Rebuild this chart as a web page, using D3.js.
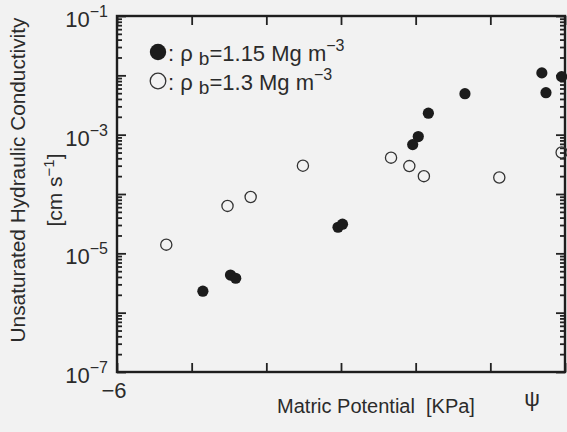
<!DOCTYPE html>
<html>
<head>
<meta charset="utf-8">
<script src="https://cdn.jsdelivr.net/npm/d3@7"></script>
<style>
  html, body { margin: 0; padding: 0; background: #f2f2f2; }
  svg { display: block; }
  text { font-family: "Liberation Sans", Arial, sans-serif; fill: #2b2b2b; }
</style>
</head>
<body>
<svg id="svg" width="567" height="432"></svg>
<script>
const width = 567;
const height = 432;

// rho_b = 1.15 Mg m-3 (filled)
const psiDense = [-4.85, -4.48, -4.41, -3.04, -2.98, -2.04, -1.965, -1.83, -1.34, -0.31, -0.255, -0.045];
const kDense = [2.3e-6, 4.3e-6, 3.8e-6, 2.75e-5, 3.1e-5, 6.8e-4, 9.3e-4, 2.3e-3, 4.9e-3, 1.1e-2, 5.1e-3, 9.5e-3];

// rho_b = 1.3 Mg m-3 (open)
const psiLoose = [-5.34, -4.52, -4.21, -3.51, -2.33, -2.085, -1.89, -0.88, -0.045];
const kLoose = [1.4e-5, 6.3e-5, 8.9e-5, 3.0e-4, 4.1e-4, 2.95e-4, 2.0e-4, 1.9e-4, 5.0e-4];

const xTicks = [-6, -5, -4, -3, -2, -1, 0];
const xTickLabels = ["\u22126"];
const yExponents = [-7, -6, -5, -4, -3, -2, -1];
const yLabelExponents = [-7, -5, -3, -1];

const legendSymbols = ["filled", "open"];
const legendValues = ["1.15", "1.3"];

const margin = { left: 117, right: 2, top: 16, bottom: 60 };

let svg = d3.select("#svg");

const x = d3.scaleLinear().domain([-6, 0]).range([margin.left, width - margin.right]);
const y = d3.scaleLog().domain([1e-7, 1e-1]).range([height - margin.bottom, margin.top]);

const majors = yExponents.map((e) => Math.pow(10, e));
const minors = [];
for (let e of yExponents.slice(0, -1)) {
  for (let m = 2; m <= 9; ++m) minors.push(m * Math.pow(10, e));
}

function styleAxis(g) {
  g.select(".domain").remove();
  g.selectAll("line").attr("stroke", "#222").attr("stroke-width", 1.8);
  g.selectAll("text").remove();
}

// left and right axes (ticks point inward)
svg.append("g").attr("transform", `translate(${x(-6)},0)`)
  .call(d3.axisRight(y).tickValues(majors).tickSize(9)).call(styleAxis);
svg.append("g").attr("transform", `translate(${x(-6)},0)`)
  .call(d3.axisRight(y).tickValues(minors).tickSize(5)).call(styleAxis);
svg.append("g").attr("transform", `translate(${x(0)},0)`)
  .call(d3.axisLeft(y).tickValues(majors).tickSize(9)).call(styleAxis);
svg.append("g").attr("transform", `translate(${x(0)},0)`)
  .call(d3.axisLeft(y).tickValues(minors).tickSize(5)).call(styleAxis);

// bottom and top axes
svg.append("g").attr("transform", `translate(0,${y(1e-7)})`)
  .call(d3.axisTop(x).tickValues(xTicks).tickSize(9)).call(styleAxis);
svg.append("g").attr("transform", `translate(0,${y(1e-1)})`)
  .call(d3.axisBottom(x).tickValues(xTicks).tickSize(9)).call(styleAxis);

// frame
svg.append("rect")
  .attr("x", x(-6))
  .attr("y", y(1e-1))
  .attr("width", x(0) - x(-6))
  .attr("height", y(1e-7) - y(1e-1))
  .attr("fill", "none")
  .attr("stroke", "#1e1e1e")
  .attr("stroke-width", 2.4);

// y tick labels
let yl = svg.append("g").selectAll("text")
  .data(yLabelExponents)
  .enter()
  .append("text")
  .attr("x", x(-6) - 9)
  .attr("y", (d) => y(Math.pow(10, d)) + 11)
  .attr("text-anchor", "end")
  .attr("font-size", 22);
yl.append("tspan").text("10");
yl.append("tspan").attr("dy", -10).attr("font-size", 16).text((d) => "\u2212" + Math.abs(d));

// x tick label
svg.append("text")
  .attr("x", x(xTicks[0]) - 3)
  .attr("y", height - margin.bottom + 26)
  .attr("text-anchor", "middle")
  .attr("font-size", 22)
  .text(xTickLabels[0]);

// axis titles
svg.append("text")
  .attr("transform", "translate(25,180) rotate(-90)")
  .attr("text-anchor", "middle")
  .attr("font-size", 20.8)
  .text("Unsaturated Hydraulic Conductivity");

let unit = svg.append("text")
  .attr("transform", "translate(62,190) rotate(-90)")
  .attr("text-anchor", "middle")
  .attr("font-size", 21);
unit.append("tspan").text("[cm s");
unit.append("tspan").attr("dy", -8).attr("font-size", 15).text("\u22121");
unit.append("tspan").attr("dy", 8).text("]");

svg.append("text")
  .attr("x", 376)
  .attr("y", 413)
  .attr("text-anchor", "middle")
  .attr("font-size", 20)
  .attr("xml:space", "preserve")
  .text("Matric Potential  [KPa]");

svg.append("text")
  .attr("x", 532)
  .attr("y", 406)
  .attr("text-anchor", "middle")
  .attr("font-size", 22)
  .text("\u03c8");

// data points
const dense = psiDense.map((p, i) => ({ x: p, k: kDense[i] }));
const loose = psiLoose.map((p, i) => ({ x: p, k: kLoose[i] }));

svg.append("g").selectAll("circle")
  .data(loose)
  .enter()
  .append("circle")
  .attr("cx", (d) => x(d.x))
  .attr("cy", (d) => y(d.k))
  .attr("r", 5.6)
  .attr("fill", "none")
  .attr("stroke", "#333")
  .attr("stroke-width", 1.3);

svg.append("g").selectAll("circle")
  .data(dense)
  .enter()
  .append("circle")
  .attr("cx", (d) => x(d.x))
  .attr("cy", (d) => y(d.k))
  .attr("r", 5.6)
  .attr("fill", "#1c1c1c");

// legend
let legend = svg.append("g").selectAll("g")
  .data(legendSymbols)
  .enter()
  .append("g")
  .attr("transform", (d, i) => `translate(158,${52 + i * 29})`);

legend.append("circle")
  .attr("r", (d) => (d === "filled" ? 8.2 : 7.8))
  .attr("fill", (d) => (d === "filled" ? "#1c1c1c" : "none"))
  .attr("stroke", (d) => (d === "filled" ? "none" : "#333"))
  .attr("stroke-width", 1.3);

let lt = legend.append("text")
  .attr("x", 10)
  .attr("y", 9)
  .attr("font-size", 22)
  .attr("xml:space", "preserve");
lt.append("tspan").text(": \u03c1 ");
lt.append("tspan").attr("dy", 4).attr("font-size", 19).text("b");
lt.append("tspan").attr("dy", -4).text((d, i) => "=" + legendValues[i] + " Mg m");
lt.append("tspan").attr("dy", -10).attr("font-size", 16).text("\u22123");
</script>
</body>
</html>
